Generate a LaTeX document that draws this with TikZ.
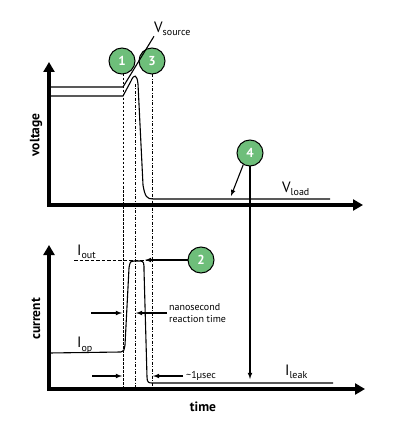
\documentclass[tikz,border=0pt]{standalone}
\usepackage{fontspec}
\setmainfont{PT Sans}
\usepackage{tikz}
\usetikzlibrary{arrows.meta}

\definecolor{numgreen}{RGB}{110,190,122}
\tikzset{
  num/.style={circle, draw=black, line width=1pt, fill=numgreen, minimum size=26pt, inner sep=0pt,
    text=white, font=\bfseries\fontsize{13}{13}\selectfont},
  axis/.style={line width=3.5pt, {Triangle[width=11pt,length=10pt]}-{Triangle[width=11pt,length=10pt]}},
  curve/.style={line width=1.1pt},
  guide/.style={line width=0.9pt, dash pattern=on 3pt off 1.5pt on 1pt off 1.5pt},
  guidedash/.style={line width=0.9pt, dash pattern=on 2.5pt off 1.5pt},
  lbl/.style={inner sep=0pt, anchor=west},
  axlbl/.style={font=\bfseries\fontsize{13.5}{13.5}\selectfont},
}
\newcommand{\sublbl}[2]{{\fontsize{15}{15}\selectfont #1}{\fontsize{10}{10}\selectfont\raisebox{-3.5pt}{#2}}}

\begin{document}
\begin{tikzpicture}[x=1pt,y=-1pt]
    \useasboundingbox (0,0) rectangle (400,430);
    % axes
    \draw[axis] (49,62) -- (49,205) -- (363,205);
    \draw[axis] (49,245) -- (49,389) -- (365,389);
    \node[axlbl, rotate=90] (volt) at (36,135) {voltage};
    \node[axlbl, rotate=90] (curr) at (36,319) {current};
    \node[axlbl] (time) at (203,407) {time};
    % markers
    \node[num] (c1) at (122,61) {1};
    \node[num] (c3) at (152,61) {3};
    \node[num] (c4) at (250,153) {4};
    \node[num] (c2) at (201,260) {2};
    % guides
    \draw[guidedash] (123,74) -- (123,389);
    \draw[guide] (135,84) -- (135,389);
    \draw[guide] (c3.south) -- (152,389);
    % voltage
    \node[lbl] (vsrc) at (154,29) {\sublbl{V}{source}};
    \node[lbl] (vload) at (282,189) {\sublbl{V}{load}};
    \draw[curve] (49,87) -- (123,87) -- (vsrc.south west);
    \draw[curve] (49,96) -- (123,96) -- (131,81) .. controls (134,74) and (137,74) .. (138,84)
      -- (143,185) .. controls (145,197) and (147,199) .. (153,199) -- (330,199);
    % current
    \node[lbl] (iout) at (77,252) {\sublbl{I}{out}};
    \node[lbl] (iop) at (77,345) {\sublbl{I}{op}};
    \node[lbl] (ileak) at (285,372) {\sublbl{I}{leak}};
    \draw[curve] (49,353) -- (121,352) .. controls (124,352) and (124,350) .. (125,345)
      -- (129,268) .. controls (130,261) and (131,261) .. (134,261) -- (140,261)
      .. controls (144,261) and (144,263) .. (144,270) -- (147,377)
      .. controls (147,383) and (149,383) .. (153,383) -- (333,383);
    \draw[line width=0.8pt, dash pattern=on 3.5pt off 2pt] (74,260) -- (152,260);
    % pointers
    \coordinate (ipk) at (145,260);
    \draw[curve, -latex] (c2) -- (ipk);
    \draw[curve, -latex] (c4.south) -- (250,379);
    \draw[curve, -latex] (c4.240) -- (231,196);
    \draw[curve, -latex] (91,313) -- (122,313);
    \draw[curve, -latex] (167,313) -- (136,313);
    \node[lbl, align=left, font=\fontsize{10}{12}\selectfont] (nano) at (169,313) {nanosecond\\reaction time};
    \draw[curve, -latex] (92,376) -- (122,376);
    \draw[curve, -latex] (183,376) -- (153,376);
    \node[lbl, font=\fontsize{10}{12}\selectfont] (usec) at (186,376) {\textasciitilde1µsec};
\end{tikzpicture}
\end{document}
